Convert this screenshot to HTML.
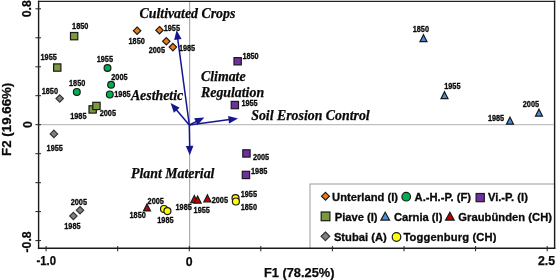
<!DOCTYPE html>
<html><head><meta charset="utf-8"><title>chart</title>
<style>
html,body{margin:0;padding:0;background:#fff;}
body{width:556px;height:280px;overflow:hidden;font-family:"Liberation Sans",sans-serif;}
svg{display:block;}
text{filter:grayscale(1);}
.l{font-family:"Liberation Sans",sans-serif;font-weight:bold;font-size:8.2px;fill:#0a0a0a;stroke:#0a0a0a;stroke-width:0.3px;}
.t{font-family:"Liberation Sans",sans-serif;font-weight:bold;font-size:12.3px;fill:#0a0a0a;stroke:#0a0a0a;stroke-width:0.25px;}
.ax{font-family:"Liberation Sans",sans-serif;font-weight:bold;font-size:12.8px;fill:#0a0a0a;stroke:#0a0a0a;stroke-width:0.25px;}
.lg{font-family:"Liberation Sans",sans-serif;font-weight:bold;font-size:11.2px;fill:#0a0a0a;stroke:#0a0a0a;stroke-width:0.3px;}
.s{font-family:"Liberation Serif",serif;font-weight:bold;font-style:italic;font-size:13.85px;fill:#0a0a0a;stroke:#0a0a0a;stroke-width:0.25px;}
</style></head><body>
<svg width="556" height="280" viewBox="0 0 556 280">
<rect x="0" y="0" width="556" height="280" fill="#ffffff"/>
<line x1="38.4" y1="124.7" x2="553.7" y2="124.7" stroke="#b0b0b0" stroke-width="1"/>
<line x1="189.7" y1="1" x2="189.7" y2="248.6" stroke="#9a9a9a" stroke-width="1"/>
<text class="t" x="36.5" y="264.6" textLength="19.6" lengthAdjust="spacingAndGlyphs">-1.0</text>
<text class="t" x="189.2" y="266.3" text-anchor="middle">0</text>
<text class="t" x="555" y="264.7" text-anchor="end">2.5</text>
<text class="t" transform="translate(30.9,17.3) rotate(-90)">0.8</text>
<text class="t" transform="translate(32.1,124.7) rotate(-90)" text-anchor="middle">0</text>
<text class="t" transform="translate(30.7,252.5) rotate(-90)">-0.8</text>
<text class="ax" style="font-size:13.3px" transform="translate(11.3,119.3) rotate(-90)" text-anchor="middle">F2 (19.66%)</text>
<text class="ax" x="264" y="276.7">F1 (78.25%)</text>
<line x1="189.3" y1="125.0" x2="177.7" y2="38.6" stroke="#15158f" stroke-width="1.5"/>
<polygon points="176.6,30.2 181.6,39.1 174.1,40.1" fill="#15158f"/>
<line x1="189.3" y1="125.0" x2="176.1" y2="109.5" stroke="#15158f" stroke-width="1.5"/>
<polygon points="170.6,103.0 179.6,107.8 173.9,112.7" fill="#15158f"/>
<line x1="189.3" y1="125.0" x2="196.7" y2="121.3" stroke="#15158f" stroke-width="1.5"/>
<polygon points="204.3,117.5 197.5,125.1 194.1,118.3" fill="#15158f"/>
<line x1="189.3" y1="125.0" x2="229.6" y2="119.6" stroke="#15158f" stroke-width="1.5"/>
<polygon points="238.0,118.5 229.1,123.5 228.1,116.0" fill="#15158f"/>
<line x1="189.3" y1="125.0" x2="189.7" y2="146.8" stroke="#15158f" stroke-width="1.5"/>
<polygon points="189.8,155.3 185.8,145.9 193.4,145.7" fill="#15158f"/>
<text class="s" x="139.5" y="17.7">Cultivated Crops</text>
<text class="s" x="130.9" y="100">Aesthetic</text>
<text class="s" x="201" y="80.5">Climate</text>
<text class="s" x="201" y="97.2">Regulation</text>
<text class="s" x="251.2" y="119.9">Soil Erosion Control</text>
<text class="s" x="131" y="178.1">Plant Material</text>
<rect x="70.5" y="32.5" width="7.3" height="7.3" fill="#7a9a3c" stroke="#1a1a1a" stroke-width="1.2"/>
<text class="l" x="72.1" y="29.2" textLength="16.3" lengthAdjust="spacingAndGlyphs">1850</text>
<rect x="53.6" y="63.9" width="7.3" height="7.3" fill="#7a9a3c" stroke="#1a1a1a" stroke-width="1.2"/>
<text class="l" x="40.5" y="59.9" textLength="16.3" lengthAdjust="spacingAndGlyphs">1955</text>
<rect x="89.0" y="105.8" width="7.3" height="7.3" fill="#7a9a3c" stroke="#1a1a1a" stroke-width="1.2"/>
<text class="l" x="70.2" y="119.2" textLength="16.3" lengthAdjust="spacingAndGlyphs">1985</text>
<rect x="92.8" y="102.3" width="7.3" height="7.3" fill="#7a9a3c" stroke="#1a1a1a" stroke-width="1.2"/>
<text class="l" x="99.7" y="115.5" textLength="16.3" lengthAdjust="spacingAndGlyphs">2005</text>
<circle cx="107.5" cy="68.0" r="3.4" fill="#00b050" stroke="#1a1a1a" stroke-width="1.2"/>
<text class="l" x="96.7" y="62.4" textLength="16.3" lengthAdjust="spacingAndGlyphs">1955</text>
<circle cx="111.1" cy="84.7" r="3.4" fill="#00b050" stroke="#1a1a1a" stroke-width="1.2"/>
<text class="l" x="111.3" y="80.2" textLength="16.3" lengthAdjust="spacingAndGlyphs">2005</text>
<circle cx="76.8" cy="91.9" r="3.4" fill="#00b050" stroke="#1a1a1a" stroke-width="1.2"/>
<text class="l" x="69.0" y="85.8" textLength="16.3" lengthAdjust="spacingAndGlyphs">1850</text>
<circle cx="109.8" cy="94.4" r="3.4" fill="#00b050" stroke="#1a1a1a" stroke-width="1.2"/>
<text class="l" x="114.3" y="97.4" textLength="16.3" lengthAdjust="spacingAndGlyphs">1985</text>
<polygon points="59.7,94.8 63.4,98.5 59.7,102.2 56.0,98.5" fill="#808080" stroke="#333" stroke-width="1.2"/>
<text class="l" x="41.7" y="94.2" textLength="16.3" lengthAdjust="spacingAndGlyphs">1850</text>
<polygon points="53.9,130.2 57.6,133.9 53.9,137.6 50.2,133.9" fill="#808080" stroke="#333" stroke-width="1.2"/>
<text class="l" x="46.6" y="150.7" textLength="16.3" lengthAdjust="spacingAndGlyphs">1955</text>
<polygon points="80.0,206.5 83.7,210.2 80.0,213.9 76.3,210.2" fill="#808080" stroke="#333" stroke-width="1.2"/>
<text class="l" x="70.7" y="205.4" textLength="16.3" lengthAdjust="spacingAndGlyphs">2005</text>
<polygon points="73.4,212.3 77.1,216.0 73.4,219.7 69.7,216.0" fill="#808080" stroke="#333" stroke-width="1.2"/>
<text class="l" x="64.3" y="229.2" textLength="16.3" lengthAdjust="spacingAndGlyphs">1985</text>
<polygon points="137.1,27.0 140.8,30.7 137.1,34.4 133.4,30.7" fill="#f07a10" stroke="#1a1a1a" stroke-width="1.2"/>
<text class="l" x="128.5" y="43.5" textLength="16.3" lengthAdjust="spacingAndGlyphs">1850</text>
<polygon points="159.5,26.5 163.2,30.2 159.5,33.9 155.8,30.2" fill="#f07a10" stroke="#1a1a1a" stroke-width="1.2"/>
<text class="l" x="163.7" y="30.9" textLength="16.3" lengthAdjust="spacingAndGlyphs">1955</text>
<polygon points="166.3,37.6 170.0,41.3 166.3,45.0 162.6,41.3" fill="#f07a10" stroke="#1a1a1a" stroke-width="1.2"/>
<text class="l" x="148.7" y="52.6" textLength="16.3" lengthAdjust="spacingAndGlyphs">2005</text>
<polygon points="172.9,43.4 176.6,47.1 172.9,50.8 169.2,47.1" fill="#f07a10" stroke="#1a1a1a" stroke-width="1.2"/>
<text class="l" x="178.9" y="51.3" textLength="16.3" lengthAdjust="spacingAndGlyphs">1985</text>
<rect x="234.0" y="57.6" width="7.3" height="7.3" fill="#7030a0" stroke="#1a1a1a" stroke-width="1.2"/>
<text class="l" x="242.4" y="58.6" textLength="16.3" lengthAdjust="spacingAndGlyphs">1850</text>
<rect x="231.2" y="101.4" width="7.3" height="7.3" fill="#7030a0" stroke="#1a1a1a" stroke-width="1.2"/>
<text class="l" x="241.4" y="106.0" textLength="16.3" lengthAdjust="spacingAndGlyphs">1955</text>
<rect x="242.8" y="149.8" width="7.3" height="7.3" fill="#7030a0" stroke="#1a1a1a" stroke-width="1.2"/>
<text class="l" x="252.9" y="159.7" textLength="16.3" lengthAdjust="spacingAndGlyphs">2005</text>
<rect x="242.3" y="171.3" width="7.3" height="7.3" fill="#7030a0" stroke="#1a1a1a" stroke-width="1.2"/>
<text class="l" x="251.0" y="174.1" textLength="16.3" lengthAdjust="spacingAndGlyphs">1985</text>
<polygon points="423.5,34.7 427.0,41.7 420.0,41.7" fill="#4a8ee0" stroke="#1a1a1a" stroke-width="1.2" stroke-linejoin="miter"/>
<text class="l" x="412.7" y="32.0" textLength="16.3" lengthAdjust="spacingAndGlyphs">1850</text>
<polygon points="444.5,91.7 448.0,98.7 441.0,98.7" fill="#4a8ee0" stroke="#1a1a1a" stroke-width="1.2" stroke-linejoin="miter"/>
<text class="l" x="444.2" y="89.2" textLength="16.3" lengthAdjust="spacingAndGlyphs">1955</text>
<polygon points="510.0,117.2 513.5,124.2 506.5,124.2" fill="#4a8ee0" stroke="#1a1a1a" stroke-width="1.2" stroke-linejoin="miter"/>
<text class="l" x="487.9" y="121.0" textLength="16.3" lengthAdjust="spacingAndGlyphs">1985</text>
<polygon points="539.0,109.2 542.5,116.2 535.5,116.2" fill="#4a8ee0" stroke="#1a1a1a" stroke-width="1.2" stroke-linejoin="miter"/>
<text class="l" x="522.8" y="107.0" textLength="16.3" lengthAdjust="spacingAndGlyphs">2005</text>
<polygon points="147.0,203.9 150.5,210.9 143.5,210.9" fill="#c00000" stroke="#1a1a1a" stroke-width="1.2" stroke-linejoin="miter"/>
<text class="l" x="129.5" y="218.3" textLength="16.3" lengthAdjust="spacingAndGlyphs">1850</text>
<text class="l" x="147.6" y="204.2" textLength="16.3" lengthAdjust="spacingAndGlyphs">2005</text>
<polygon points="194.3,195.6 197.8,202.6 190.8,202.6" fill="#c00000" stroke="#1a1a1a" stroke-width="1.2" stroke-linejoin="miter"/>
<polygon points="197.6,196.1 201.1,203.1 194.1,203.1" fill="#c00000" stroke="#1a1a1a" stroke-width="1.2" stroke-linejoin="miter"/>
<polygon points="207.4,194.8 210.9,201.8 203.9,201.8" fill="#c00000" stroke="#1a1a1a" stroke-width="1.2" stroke-linejoin="miter"/>
<text class="l" x="175.5" y="209.6" textLength="16.3" lengthAdjust="spacingAndGlyphs">1985</text>
<text class="l" x="193.6" y="212.9" textLength="16.3" lengthAdjust="spacingAndGlyphs">1955</text>
<text class="l" x="211.7" y="203.4" textLength="16.3" lengthAdjust="spacingAndGlyphs">2005</text>
<circle cx="164.0" cy="209.0" r="3.5" fill="#ffff00" stroke="#1a1a1a" stroke-width="1.2"/>
<circle cx="167.4" cy="211.1" r="3.5" fill="#ffff00" stroke="#1a1a1a" stroke-width="1.2"/>
<text class="l" x="157.3" y="222.9" textLength="16.3" lengthAdjust="spacingAndGlyphs">1985</text>
<circle cx="235.5" cy="198.1" r="3.5" fill="#ffff00" stroke="#1a1a1a" stroke-width="1.2"/>
<circle cx="235.9" cy="201.5" r="3.5" fill="#ffff00" stroke="#1a1a1a" stroke-width="1.2"/>
<text class="l" x="240.7" y="197.1" textLength="16.3" lengthAdjust="spacingAndGlyphs">1955</text>
<text class="l" x="240.7" y="209.7" textLength="16.3" lengthAdjust="spacingAndGlyphs">1850</text>
<rect x="310" y="184" width="244.6" height="64.5" fill="#fff" stroke="#9c9c9c" stroke-width="1"/>
<polygon points="325.5,192.3 329.4,196.2 325.5,200.1 321.6,196.2" fill="#f07a10" stroke="#1a1a1a" stroke-width="1.2"/>
<text class="lg" x="332.1" y="200.7">Unterland (I)</text>
<circle cx="406.2" cy="196.7" r="4.3" fill="#00b050" stroke="#1a1a1a" stroke-width="1.2"/>
<text class="lg" x="414.6" y="200.7">A.-H.-P. (F)</text>
<rect x="476.1" y="193.5" width="8.2" height="8.2" fill="#7030a0" stroke="#1a1a1a" stroke-width="1.2"/>
<text class="lg" x="487.9" y="200.7">Vi.-P. (I)</text>
<rect x="321.2" y="212.0" width="8.7" height="8.7" fill="#7a9a3c" stroke="#1a1a1a" stroke-width="1.2"/>
<text class="lg" x="334.7" y="220.6">Piave (I)</text>
<polygon points="385.2,212.3 389.5,220.1 380.9,220.1" fill="#4a8ee0" stroke="#1a1a1a" stroke-width="1.2" stroke-linejoin="miter"/>
<text class="lg" x="393.9" y="220.6">Carnia (I)</text>
<polygon points="449.9,212.3 454.2,220.1 445.6,220.1" fill="#c00000" stroke="#1a1a1a" stroke-width="1.2" stroke-linejoin="miter"/>
<text class="lg" x="458.3" y="220.6" textLength="93.8">Graubünden (CH)</text>
<polygon points="325.4,232.0 329.7,236.3 325.4,240.6 321.1,236.3" fill="#808080" stroke="#333" stroke-width="1.2"/>
<text class="lg" x="333.9" y="240.5">Stubai (A)</text>
<circle cx="396.5" cy="237.0" r="4.3" fill="#ffff00" stroke="#1a1a1a" stroke-width="1.2"/>
<text class="lg" x="403.4" y="240.5" textLength="93.1">Toggenburg (CH)</text>
<line x1="38.6" y1="0.7" x2="38.6" y2="249" stroke="#1a1a1a" stroke-width="1.4"/>
<line x1="37.9" y1="1.35" x2="555.3" y2="1.35" stroke="#222" stroke-width="1.3"/>
<line x1="554.6" y1="0.7" x2="554.6" y2="249" stroke="#1a1a1a" stroke-width="1.4"/>
<line x1="37.9" y1="248.3" x2="555.3" y2="248.3" stroke="#1a1a1a" stroke-width="1.4"/>
<line x1="35.4" y1="8.8" x2="41" y2="8.8" stroke="#222" stroke-width="1"/>
<line x1="35.4" y1="37.8" x2="41" y2="37.8" stroke="#222" stroke-width="1"/>
<line x1="35.4" y1="66.8" x2="41" y2="66.8" stroke="#222" stroke-width="1"/>
<line x1="35.4" y1="95.7" x2="41" y2="95.7" stroke="#222" stroke-width="1"/>
<line x1="35.4" y1="124.7" x2="41" y2="124.7" stroke="#222" stroke-width="1"/>
<line x1="35.4" y1="153.7" x2="41" y2="153.7" stroke="#222" stroke-width="1"/>
<line x1="35.4" y1="182.7" x2="41" y2="182.7" stroke="#222" stroke-width="1"/>
<line x1="35.4" y1="211.6" x2="41" y2="211.6" stroke="#222" stroke-width="1"/>
<line x1="35.4" y1="240.6" x2="41" y2="240.6" stroke="#222" stroke-width="1"/>
<line x1="46.1" y1="246" x2="46.1" y2="251.3" stroke="#222" stroke-width="1"/>
<line x1="117.7" y1="246" x2="117.7" y2="251.3" stroke="#222" stroke-width="1"/>
<line x1="189.3" y1="246" x2="189.3" y2="251.3" stroke="#222" stroke-width="1"/>
<line x1="260.8" y1="246" x2="260.8" y2="251.3" stroke="#222" stroke-width="1"/>
<line x1="332.4" y1="246" x2="332.4" y2="251.3" stroke="#222" stroke-width="1"/>
<line x1="404.0" y1="246" x2="404.0" y2="251.3" stroke="#222" stroke-width="1"/>
<line x1="475.6" y1="246" x2="475.6" y2="251.3" stroke="#222" stroke-width="1"/>
<line x1="547.2" y1="246" x2="547.2" y2="251.3" stroke="#222" stroke-width="1"/>
</svg>
</body></html>
